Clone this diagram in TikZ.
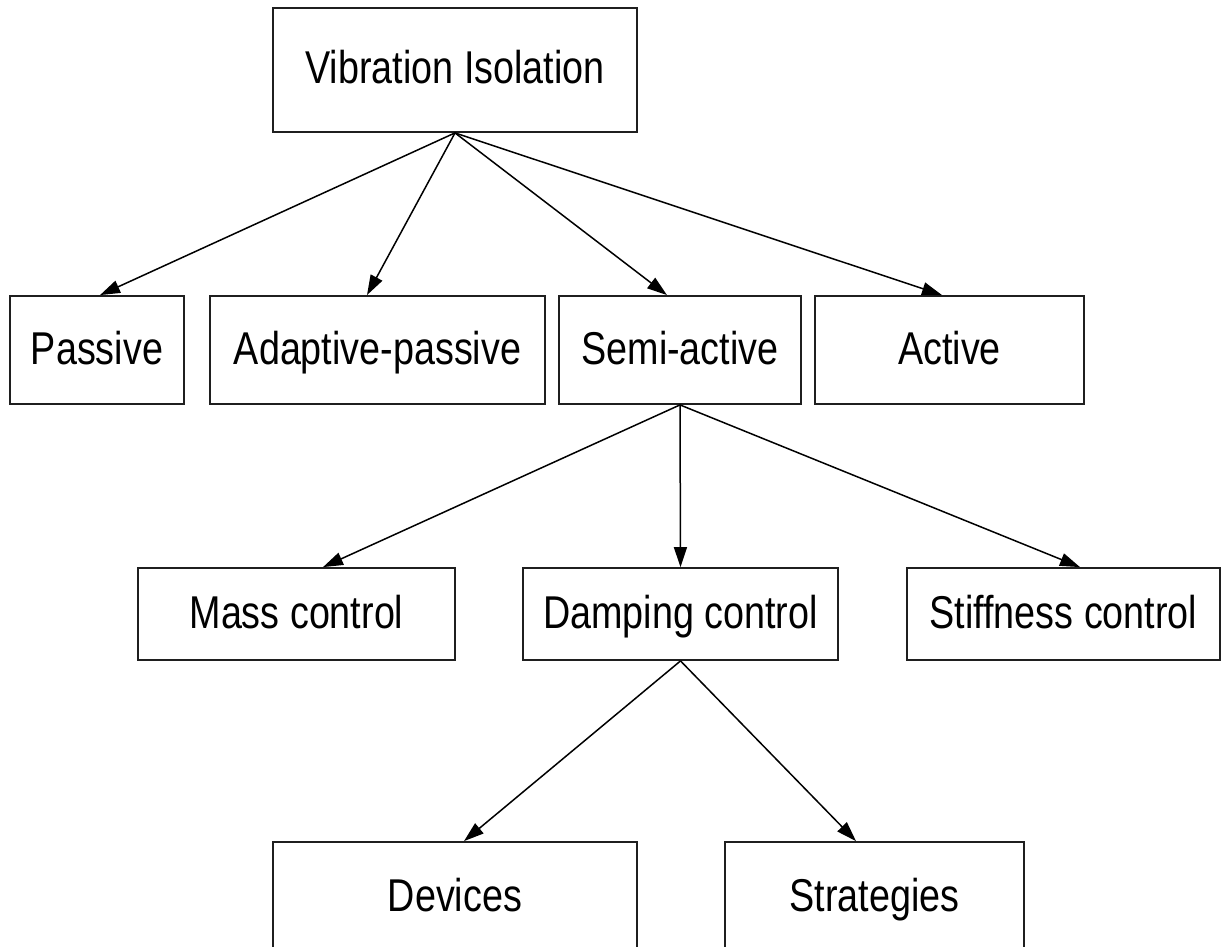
\documentclass[tikz,border=0pt]{standalone}
\usepackage{fontspec}
\setmainfont[FakeStretch=0.82]{Liberation Sans}
\usetikzlibrary{arrows.meta}
\begin{document}
\begin{tikzpicture}[x=1pt,y=-1pt,
  box/.style={draw=black!88,line width=1.8pt,fill=white,rectangle,inner sep=0pt,
    font=\fontsize{46}{50}\selectfont,text height=33pt,text depth=5pt},
  link/.style={line width=1.5pt,-{Triangle[length=20pt,width=13pt]}}]
\useasboundingbox (0,0) rectangle (1223,947);
\clip (0,0) rectangle (1223,947);
\fill[white] (0,0) rectangle (1223,947);

% root
\node[box,minimum width=364pt,minimum height=124pt] (vib) at (455,70) {Vibration Isolation};

% first level
\node[box,minimum width=174pt,minimum height=108pt] (passive) at (97,350) {Passive};
\node[box,minimum width=335pt,minimum height=108pt] (adaptive) at (377.5,350) {Adaptive-passive};
\node[box,minimum width=242pt,minimum height=108pt] (semi) at (680,350) {Semi-active};
\node[box,minimum width=269pt,minimum height=108pt] (active) at (949.5,350) {Active};

% semi-active branches
\node[box,minimum width=317pt,minimum height=92pt] (mass) at (296.5,614) {Mass control};
\node[box,minimum width=315pt,minimum height=92pt] (damping) at (680.5,614) {Damping control};
\node[box,minimum width=313pt,minimum height=92pt] (stiff) at (1063.5,614) {Stiffness control};

% damping control branches
\node[box,minimum width=364pt,minimum height=110pt] (devices) at (455,897) {Devices};
\node[box,minimum width=299pt,minimum height=110pt] (strategies) at (874.5,897) {Strategies};

% connectors
\draw[link] (vib.south) -- ([xshift=3pt]passive.north);
\draw[link] (vib.south) -- ([xshift=-10.5pt]adaptive.north);
\draw[link] (vib.south) -- ([xshift=-13pt]semi.north);
\draw[link] (vib.south) -- ([xshift=-7.5pt]active.north);

\draw[link] (semi.south) -- ([xshift=26.5pt]mass.north);
\draw[link] (semi.south) -- (damping.north);
\draw[link] (semi.south) -- ([xshift=16.5pt]stiff.north);

\draw[link] (damping.south) -- ([xshift=9pt]devices.north);
\draw[link] (damping.south) -- ([xshift=-18.5pt]strategies.north);
\end{tikzpicture}
\end{document}
